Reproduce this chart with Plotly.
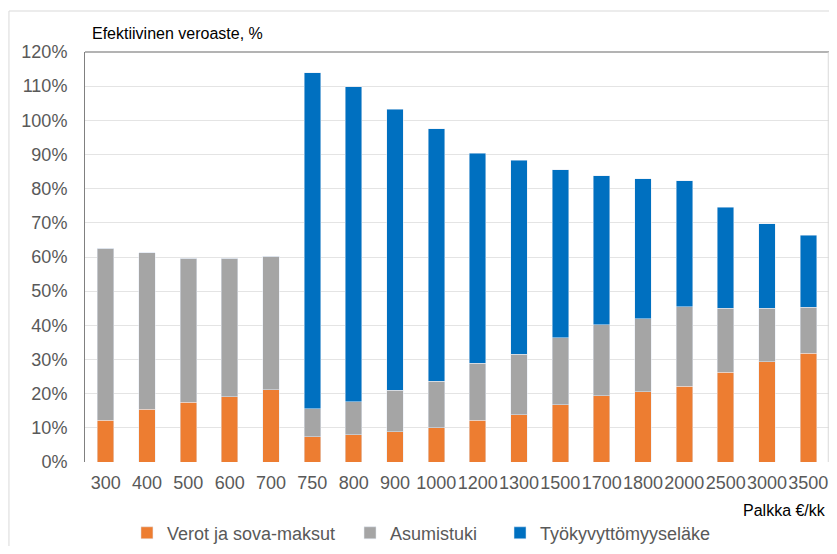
import plotly.graph_objects as go

# Palkka €/kk
palkka = ['300', '400', '500', '600', '700', '750', '800', '900', '1000', '1200',
          '1300', '1500', '1700', '1800', '2000', '2500', '3000', '3500']

# Efektiivinen veroaste osittain, %
verot = [12.2, 15.5, 17.5, 19.1, 21.1, 7.4, 8.0, 8.9, 10.0, 12.2,
         13.9, 16.7, 19.4, 20.5, 22.1, 26.2, 29.4, 31.8]
asumistuki = [50.3, 45.7, 42.2, 40.6, 39.1, 8.2, 9.6, 12.1, 13.7, 16.7,
              17.6, 19.6, 20.8, 21.5, 23.4, 18.8, 15.6, 13.5]
elake = [0, 0, 0, 0, 0, 98.4, 92.3, 82.2, 73.9, 61.5,
         56.8, 49.2, 43.6, 40.9, 36.8, 29.5, 24.7, 21.1]

FONT = 'Liberation Sans, Arial, sans-serif'
GREY_TEXT = '#595959'

fig = go.Figure()
fig.add_trace(go.Bar(x=palkka, y=verot, name='Verot ja sova-maksut',
                     marker_color='#ED7D31', legend='legend'))
fig.add_trace(go.Bar(x=palkka, y=asumistuki, name='Asumistuki',
                     marker_color='#A5A5A5', legend='legend2'))
fig.add_trace(go.Bar(x=palkka, y=elake, name='Työkyvyttömyyseläke',
                     marker_color='#0070C0', legend='legend3'))

# the page body has an 8px margin on every side; keep the figure inside the
# window so no scrollbars appear
legend_common = dict(orientation='h', xref='container', yref='container',
                     y=0.024, yanchor='middle', xanchor='left',
                     bgcolor='rgba(0,0,0,0)', borderwidth=0,
                     font=dict(family=FONT, size=18, color=GREY_TEXT),
                     itemwidth=30)

fig.update_layout(
    barmode='stack',
    bargap=0.6,
    width=821, height=538,
    margin=dict(l=77, r=0, t=44, b=84),
    paper_bgcolor='white',
    plot_bgcolor='white',
    font=dict(family=FONT, color=GREY_TEXT),
    xaxis=dict(
        type='category',
        tickfont=dict(size=18, color=GREY_TEXT),
        tickangle=0,
        showgrid=False,
        showline=False,
        ticks='',
        ticklabelstandoff=8,
    ),
    yaxis=dict(
        range=[0, 120],
        dtick=10,
        ticksuffix='%',
        tickfont=dict(size=18, color=GREY_TEXT),
        showgrid=True,
        gridcolor='#E4E4E4',
        gridwidth=1,
        zeroline=False,
        showline=True,
        linecolor='#808080',
        linewidth=1,
        ticks='',
        ticklabelstandoff=13,
    ),
    legend=dict(legend_common, x=0.1449),
    legend2=dict(legend_common, x=0.4166),
    legend3=dict(legend_common, x=0.5993),
    showlegend=True,
)

# plot-area frame: top line and light right edge
fig.add_shape(type='line', xref='paper', yref='paper', x0=0, x1=1, y0=1, y1=1,
              line=dict(color='#9A9A9A', width=1.5))
fig.add_shape(type='line', xref='paper', yref='paper', x0=0.999, x1=0.999, y0=0, y1=1,
              line=dict(color='#D9D9D9', width=1))
# outer chart border
fig.add_shape(type='rect', xref='paper', yref='paper',
              x0=-0.1022, x1=1.2, y0=-0.4, y1=1.1,
              line=dict(color='#D9D9D9', width=1), layer='below')

fig.add_annotation(text='Efektiivinen veroaste, %', xref='paper', yref='paper',
                   x=0.007, y=1.044, xanchor='left', yanchor='middle',
                   showarrow=False, font=dict(family=FONT, size=16, color='#000000'))
fig.add_annotation(text='Palkka €/kk', xref='paper', yref='paper',
                   x=0.998, y=-0.118, xanchor='right', yanchor='middle',
                   showarrow=False, font=dict(family=FONT, size=16, color='#000000'))

fig.write_html('out.html')
